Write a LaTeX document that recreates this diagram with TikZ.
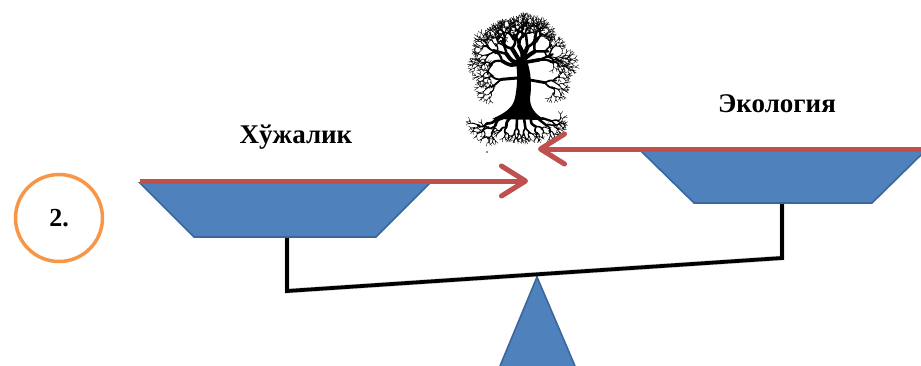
\documentclass[tikz,border=0pt]{standalone}
\usepackage{fontspec}
\setmainfont{Liberation Serif}
\usetikzlibrary{arrows.meta}

\definecolor{panblue}{HTML}{4F81BD}
\definecolor{panedge}{HTML}{3B679C}
\definecolor{arrowred}{HTML}{C0504D}
\definecolor{ringorange}{HTML}{F79646}

% recursive twig: depth, length, width (in pt); grows along +y of the current frame
\newcommand\treetwig[3]{%
  \draw[line width=#3pt] (0,0) .. controls ({(rnd-0.5)*0.6*#2},{0.5*#2}) .. (0,#2);%
  \ifnum#1>0
    \pgfmathsetmacro\tlen{#2*(0.7+0.12*rnd)}%
    \pgfmathsetmacro\twid{max(#3*0.62,0.4)}%
    \pgfmathtruncatemacro\tdep{#1-1}%
    \begin{scope}[shift={(0,#2)},rotate={10+rnd*35}]
      \treetwig{\tdep}{\tlen}{\twid}%
    \end{scope}
    \begin{scope}[shift={(0,#2)},rotate={-10-rnd*35}]
      \treetwig{\tdep}{\tlen}{\twid}%
    \end{scope}
  \fi}

\tikzset{
  pan/.style={fill=panblue, draw=panedge, line width=1.6pt, line join=miter},
  beam/.style={draw=black, line width=3.8pt, line join=miter},
  redarrow/.style={draw=arrowred, line width=5pt,
    -{Straight Barb[length=24pt,width=30pt,round]}},
  shade/.style={draw=black, opacity=0.15, line width=5pt, shift={(1.5,2.5)}},
  weight/.style={font=\bfseries\fontsize{27}{27}\selectfont, inner sep=0pt},
  ring/.style={draw=ringorange, line width=3.5pt, circle, minimum size=87pt,
    inner sep=0pt, font=\bfseries\fontsize{26}{26}\selectfont},
  wood/.style={y=1pt, line cap=round, black},
}

\begin{document}
\begin{tikzpicture}[x=1pt,y=-1pt]
  \useasboundingbox (0,0) rectangle (921,365);
  \pgfmathsetseed{7}

  % fulcrum
  \draw[pan] (500,366) -- (537,277) -- (575,366);

  % beam with the two posts, and its soft shadow
  \coordinate (lpost) at (287,236);
  \coordinate (lend) at (287,291);
  \coordinate (rend) at (782,258);
  \coordinate (rpost) at (782,202);
  \draw[shade, line join=miter] (lpost) -- (lend) -- (rend) -- (rpost);
  \draw[beam] (lpost) -- (lend) -- (rend) -- (rpost);

  % pans
  \draw[pan] (140,183) -- (430,183) -- (376,237) -- (194,237) -- cycle;
  \draw[pan] (640,150) -- (926,150) -- (872,203) -- (694,203) -- cycle;

  % tree: trunk with root flare
  \fill[black] (492,119) .. controls (505,113) and (513,108) .. (515,98)
     .. controls (517,88) and (518,76) .. (516,62) -- (527,61)
     .. controls (531,72) and (532,86) .. (530,98)
     .. controls (530,108) and (535,114) .. (545,120) -- cycle;

  % tree: crown
  \begin{scope}[shift={(521,63)}, wood]
    \foreach \a/\l/\w in {84/19/3.6, 58/17/4, 32/17/4.2, 6/17/4.4, -22/17/4.2, -50/18/4, -80/19/3.6}{
      \begin{scope}[rotate=\a]
        \treetwig{6}{\l}{\w}
      \end{scope}
    }
  \end{scope}
  \begin{scope}[shift={(517,78)}, wood]
    \begin{scope}[rotate=95] \treetwig{5}{16}{3} \end{scope}
  \end{scope}
  \begin{scope}[shift={(530,80)}, wood]
    \begin{scope}[rotate=-100] \treetwig{5}{15}{2.8} \end{scope}
  \end{scope}

  % tree: roots
  \foreach \x/\a/\l/\w in {497/118/12/2.6, 503/135/11/2.8, 510/158/10/2.8,
                          517/178/10/2.6, 524/-172/10/2.6, 531/-150/10/2.6,
                          537/-128/11/2.4, 542/-108/10/2.2}{
    \begin{scope}[shift={(\x,118)}, wood, rotate=\a]
      \treetwig{4}{\l}{\w}
    \end{scope}
  }
  \fill[black!60] (487,152) circle (1.2pt);

  % arrows meeting at the tree
  \coordinate (lstart) at (140,181);
  \coordinate (ltip) at (528,181);
  \coordinate (rstart) at (924,149);
  \coordinate (rtip) at (538,149);
  \draw[shade, -{Straight Barb[length=24pt,width=30pt,round]}] (lstart) -- (ltip);
  \draw[shade, -{Straight Barb[length=24pt,width=30pt,round]}] (rstart) -- (rtip);
  \draw[redarrow] (lstart) -- (ltip);
  \draw[redarrow] (rstart) -- (rtip);

  % labels
  \node[weight] (economy) at (296,137) {Хўжалик};
  \node[weight] (ecology) at (777,104) {Экология};
  \node[ring] (num) at (59,218) {2.};
\end{tikzpicture}
\end{document}
